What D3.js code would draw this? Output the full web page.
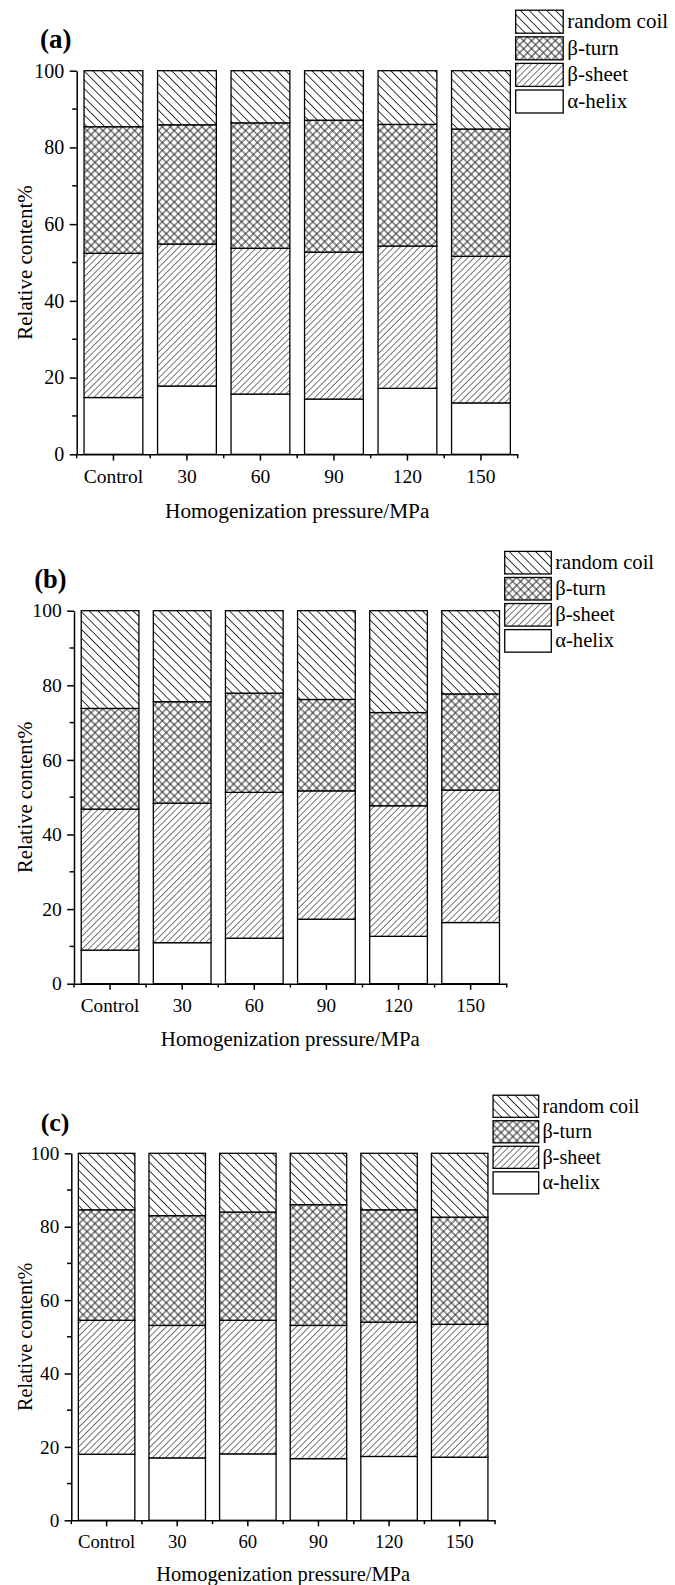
<!DOCTYPE html>
<html>
<head>
<meta charset="utf-8">
<script src="https://cdn.jsdelivr.net/npm/d3@7"></script>
<style>
  body { margin: 0; background: #fff; }
  svg { display: block; }
</style>
</head>
<body>
<svg id="chart" width="675" height="1585"></svg>
<script>
// ---- data -------------------------------------------------------------
const categories = ["Control", "30", "60", "90", "120", "150"];
const seriesKeys = ["helix", "sheet", "turn", "coil"];
const seriesLabels = ["α-helix", "β-sheet", "β-turn", "random coil"];
const yMajorTicks = [0, 20, 40, 60, 80, 100];
const yMinorTicks = [10, 30, 50, 70, 90];

// panel (a)
const helixA = [14.8, 17.8, 15.7, 14.4, 17.2, 13.4];
const sheetA = [37.6, 37.0, 38.0, 38.3, 37.1, 38.2];
const turnA  = [33.0, 31.1, 32.7, 34.4, 31.7, 33.2];
const coilA  = [14.6, 14.1, 13.6, 12.9, 14.0, 15.2];

// panel (b)
const helixB = [9.0, 11.0, 12.2, 17.3, 12.7, 16.4];
const sheetB = [37.8, 37.4, 39.1, 34.4, 35.0, 35.5];
const turnB  = [27.0, 27.2, 26.6, 24.5, 25.0, 25.8];
const coilB  = [26.2, 24.4, 22.1, 23.8, 27.3, 22.3];

// panel (c)
const helixC = [18.0, 17.0, 18.1, 16.8, 17.4, 17.2];
const sheetC = [36.5, 36.1, 36.4, 36.3, 36.6, 36.2];
const turnC  = [30.1, 29.9, 29.5, 32.9, 30.6, 29.2];
const coilC  = [15.4, 17.0, 16.0, 14.0, 15.4, 17.4];

// ---- layout -----------------------------------------------------------
const FONT = "'Liberation Serif', 'Times New Roman', Times, serif";
const panels = [
  { label: "(a)", series: [helixA, sheetA, turnA, coilA],
    x0: 76.7, x1: 517.7, yBottom: 454.3, yTop: 70.7, k: 1.0, labelX: 40 },
  { label: "(b)", series: [helixB, sheetB, turnB, coilB],
    x0: 74.0, x1: 506.7, yBottom: 983.7, yTop: 610.7, k: 0.98, labelX: 34.3 },
  { label: "(c)", series: [helixC, sheetC, turnC, coilC],
    x0: 71.3, x1: 495.0, yBottom: 1520.3, yTop: 1153.3, k: 0.96, labelX: 40.7 }
];

const svg = d3.select("#chart").attr("font-family", FONT);
const defs = svg.append("defs");

// hatch fills
function hatch(id, spacing, angle, color, width, cross) {
  const p = defs.append("pattern")
    .attr("id", id)
    .attr("patternUnits", "userSpaceOnUse")
    .attr("width", spacing).attr("height", spacing)
    .attr("patternTransform", `rotate(${angle})`);
  p.append("rect").attr("width", spacing).attr("height", spacing).attr("fill", "#fff");
  p.append("path")
    .attr("d", `M0,${spacing / 2}H${spacing}` + (cross ? `M${spacing / 2},0V${spacing}` : ""))
    .attr("stroke", color).attr("stroke-width", width).attr("fill", "none");
}
hatch("fill-coil", 6.2, 45, "#222", 0.9, false);
hatch("fill-turn", 5.6, 45, "#222", 0.95, true);
hatch("fill-sheet", 4.6, -45, "#555", 0.8, false);

const fills = { helix: "#fff", sheet: "url(#fill-sheet)", turn: "url(#fill-turn)", coil: "url(#fill-coil)" };

panels.forEach(P => {
  const k = P.k;
  const g = svg.append("g");

  const rows = categories.map((c, i) => {
    const r = { category: c };
    seriesKeys.forEach((key, j) => { r[key] = P.series[j][i]; });
    return r;
  });
  const stacked = d3.stack().keys(seriesKeys)(rows);

  const x = d3.scaleBand().domain(categories).range([P.x0, P.x1])
    .paddingInner(0.2).paddingOuter(0.1);
  const y = d3.scaleLinear().domain([0, 100]).range([P.yBottom, P.yTop]);

  // bars
  g.selectAll("g.layer").data(stacked).join("g")
    .attr("class", "layer")
    .attr("fill", d => fills[d.key])
    .selectAll("rect").data(d => d).join("rect")
    .attr("x", d => x(d.data.category))
    .attr("width", x.bandwidth())
    .attr("y", d => y(d[1]))
    .attr("height", d => y(d[0]) - y(d[1]))
    .attr("stroke", "#000")
    .attr("stroke-width", 1.3);

  // y axis
  const yAxis = g.append("g")
    .attr("transform", `translate(${P.x0},0)`)
    .call(d3.axisLeft(y).tickValues(yMajorTicks).tickSize(7 * k).tickSizeOuter(0)
      .tickPadding(5.5 * k).tickFormat(d3.format("d")));
  yAxis.selectAll("text").style("font-size", `${20 * k}px`);
  yAxis.append("g").selectAll("line").data(yMinorTicks).join("line")
    .attr("x1", -4.5 * k).attr("x2", 0)
    .attr("y1", d => y(d)).attr("y2", d => y(d));

  // x axis
  const xAxis = g.append("g")
    .attr("transform", `translate(0,${P.yBottom})`)
    .call(d3.axisBottom(x).tickSize(6.3 * k).tickSizeOuter(0));
  xAxis.selectAll("text")
    .attr("y", 28.4 * k).attr("dy", null)
    .style("font-size", `${19.5 * k}px`);
  const step = x.step();
  xAxis.append("g").selectAll("line").data(d3.range(categories.length + 1)).join("line")
    .attr("x1", i => P.x0 + i * step).attr("x2", i => P.x0 + i * step)
    .attr("y1", 0).attr("y2", 4 * k);

  [yAxis, xAxis].forEach(a => {
    a.attr("font-family", FONT);
    a.selectAll("path, line").attr("stroke", "#000").attr("stroke-width", 1.5);
    a.selectAll("text").attr("fill", "#000");
  });

  // axis titles
  g.append("text")
    .attr("x", (P.x0 + P.x1) / 2)
    .attr("y", P.yBottom + 63.5 * k)
    .attr("text-anchor", "middle")
    .style("font-size", `${21.3 * k}px`)
    .text("Homogenization pressure/MPa");

  g.append("text")
    .attr("transform", `translate(${31.5},${(P.yTop + P.yBottom) / 2}) rotate(-90)`)
    .attr("text-anchor", "middle")
    .style("font-size", `${21 * k}px`)
    .text("Relative content%");

  // panel label
  g.append("text")
    .attr("x", P.labelX)
    .attr("y", P.yTop - 23 * k)
    .style("font-size", `${27 * k}px`)
    .style("font-weight", "bold")
    .text(P.label);

  // legend (top to bottom: random coil, β-turn, β-sheet, α-helix)
  const legendOrder = [3, 2, 1, 0];
  const boxW = 47.5 * k, boxH = 23 * k, pitch = 26.6 * k;
  const lx = P.x1 - 2 * k, ly = P.yTop - 60.5 * k;
  const lg = g.append("g");
  const items = lg.selectAll("g").data(legendOrder).join("g")
    .attr("transform", (d, i) => `translate(${lx},${ly + i * pitch})`);
  items.append("rect")
    .attr("width", boxW).attr("height", boxH)
    .attr("fill", d => fills[seriesKeys[d]])
    .attr("stroke", "#000").attr("stroke-width", 1.3);
  items.append("text")
    .attr("x", boxW + 4 * k)
    .attr("y", boxH / 2 + 6.5 * k)
    .style("font-size", `${21 * k}px`)
    .text(d => seriesLabels[d]);
});

// one serif face for every label
svg.selectAll("text").style("font-family", FONT).attr("fill", "#000");
</script>
</body>
</html>
